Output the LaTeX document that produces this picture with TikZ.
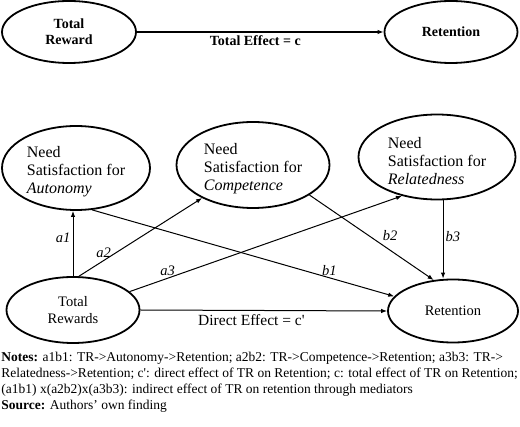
\documentclass[tikz,border=0pt]{standalone}
\usepackage{fontspec}
\setmainfont{Liberation Serif}
\usetikzlibrary{shapes.geometric,arrows.meta}

\begin{document}
\begin{tikzpicture}[thick, x=1pt, y=-1pt,
    var/.style={draw, ellipse, line width=1.8pt, inner sep=0pt, align=center,
      font=\fontsize{14.5}{17}\selectfont},
    need/.style={var, label={[align=left, font=\fontsize{16}{18}\selectfont, yshift=-4pt]center:#1}},
    link/.style={-{Latex[length=6pt,width=4.5pt]}, line width=1pt},
    lbl/.style={font=\fontsize{14.5}{17}\selectfont\itshape, inner sep=2pt}]
  \useasboundingbox (0,0) rectangle (520,427);
  % total effect
  \node[var, minimum width=134pt, minimum height=62pt, font=\fontsize{14}{16}\selectfont\bfseries]
    (tr) at (69,32) {Total\\Reward};
  \node[var, minimum width=133pt, minimum height=62pt, font=\fontsize{14}{16}\selectfont\bfseries]
    (ret) at (451,32) {Retention};
  \draw[link, line width=1.6pt] (tr.east) -- node[pos=.48, below, font=\fontsize{14}{16}\selectfont\bfseries]{Total Effect = c} (ret.west);
  % mediation model
  \node[need={Need\\Satisfaction for\\\textit{Autonomy}}, minimum width=148pt, minimum height=84pt] (aut) at (76,168) {};
  \node[need={Need\\Satisfaction for\\\textit{Competence}}, minimum width=153pt, minimum height=86pt] (comp) at (253,165) {};
  \node[need={Need\\Satisfaction for\\\textit{Relatedness}}, minimum width=157pt, minimum height=85pt] (rel) at (437,157) {};
  \node[var, minimum width=133pt, minimum height=66pt] (trs) at (73,310) {Total\\Rewards};
  \node[var, minimum width=130pt, minimum height=63pt] (ret2) at (453,311) {Retention};
  \draw[link] (trs.north) -- node[lbl, pos=.58, left]{a1} (trs.north |- aut.south);
  \draw[link] (trs.80) -- node[lbl, pos=.2, above]{a2} (comp.213);
  \draw[link] (trs.18) -- node[lbl, pos=.14, above]{a3} (rel.228);
  \draw[link] (aut.291) -- node[lbl, pos=.785, above]{b1} (ret2.166);
  \draw[link] (comp.332) -- node[lbl, pos=.57, above right]{b2} (ret2.122);
  \draw[link] (rel.-82) -- node[lbl, pos=.46, right]{b3} (rel.-82 |- ret2.north);
  \draw[link] (trs.east) -- node[pos=.45, below, font=\fontsize{15.5}{17}\selectfont]{Direct Effect = c\textquotesingle} (ret2.west);
  % notes
  \node[anchor=north west, inner sep=0pt, align=left, font=\fontsize{13.5}{16}\selectfont] (notes) at (1,352)
    {\textbf{Notes:} a1b1: TR->Autonomy->Retention; a2b2: TR->Competence->Retention; a3b3: TR->\\
     Relatedness->Retention; c\textquotesingle: direct effect of TR on Retention; c: total effect of TR on Retention;\\
     (a1b1) x(a2b2)x(a3b3): indirect effect of TR on retention through mediators\\
     \textbf{Source:} Authors’ own finding};
\end{tikzpicture}
\end{document}
